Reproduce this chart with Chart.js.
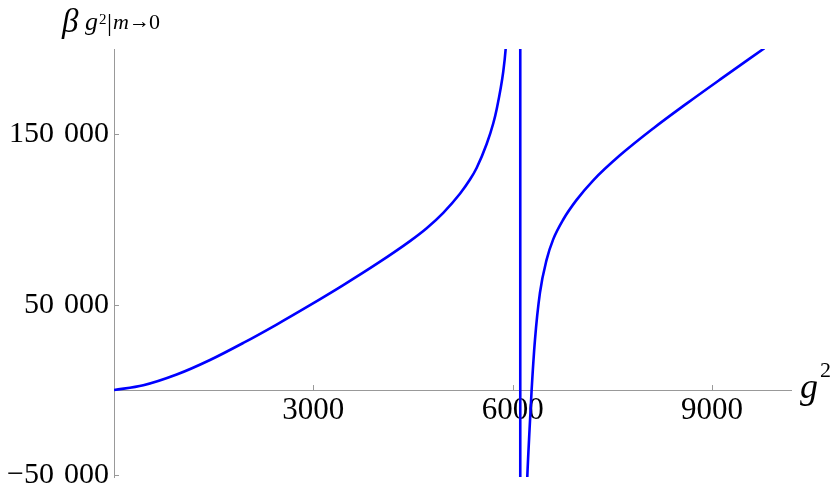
<!DOCTYPE html>
<html><head><meta charset="UTF-8">
<title>beta g2</title>
<script src="https://cdn.jsdelivr.net/npm/chart.js"></script>
<style>html,body{margin:0;padding:0;background:#fff}</style>
</head><body>
<canvas id="c" width="830" height="492"></canvas>
<script>
// valores: g^2 no eixo x, beta no eixo y
const leftX  = [0, 441, 943, 1445, 1946, 2448, 2950, 3451, 3953, 4455, 4706, 4956, 5207, 5358, 5458, 5609, 5709, 5759, 5859, 5895, 5920];
const leftY  = [0, 2800, 9080, 17610, 27630, 38420, 49770, 61540, 73940, 87340, 94900, 103950, 115120, 123430, 130230, 144270, 156470, 164570, 186770, 199910, 214900];
const poleX  = [6115, 6115];
const poleY  = [-60000, 210000];
const rightX = [6205, 6221, 6255, 6286, 6336, 6411, 6512, 6612, 6762, 6963, 7214, 7615, 8116, 8618, 9120, 9790];
const rightY = [-70000, -50800, -23000, 0, 29300, 57000, 76500, 88500, 100000, 111500, 123000, 137640, 153420, 167980, 182030, 200460];
const xTicks = [3000, 6000, 9000];
const yTicks = [-50000, 50000, 150000];

const pts = (xs, ys) => xs.map((v, i) => ({x: v, y: ys[i]}));
const serie = d => ({data: d, borderColor: '#0000ff', borderWidth: 2.6, pointRadius: 0,
  fill: false, cubicInterpolationMode: 'monotone'});

const fmt = v => {
  const s = Math.abs(v).toString().replace(/\B(?=(\d{3})+(?!\d))/g, '\u2004');
  return (v < 0 ? '\u2212' : '') + s;
};

const extras = {
  id: 'extras',
  beforeDatasetsDraw(chart) {
    const {ctx, scales: {x, y}} = chart;
    const x0 = x.getPixelForValue(0), y0 = y.getPixelForValue(0);
    ctx.save();
    ctx.strokeStyle = '#999'; ctx.lineWidth = 1;
    ctx.beginPath();
    x.ticks.forEach(t => { const p = Math.round(x.getPixelForValue(t.value)) + 0.5; ctx.moveTo(p, y0); ctx.lineTo(p, y0 - 5); });
    y.ticks.forEach(t => { const p = Math.round(y.getPixelForValue(t.value)) + 0.5; ctx.moveTo(x0, p); ctx.lineTo(x0 + 5, p); });
    ctx.stroke();
    ctx.restore();
  },
  afterDraw(chart) {
    const {ctx, chartArea: a, scales: {y}} = chart;
    const y0 = y.getPixelForValue(0);
    const put = (txt, font, px, py) => { ctx.font = font; ctx.fillText(txt, px, py); };
    ctx.save();
    ctx.fillStyle = '#000';
    ctx.textBaseline = 'alphabetic';
    // rótulo do eixo y
    const L = a.left;
    put('\u03b2', 'italic 33px "Liberation Serif"', L - 52, 32);
    put('g', 'italic 26px "Liberation Serif"', L - 29, 30);
    put('2', '15px "Liberation Serif"', L - 15, 24);
    put('|', '25px "Liberation Serif"', L - 7, 31);
    put('m', 'italic 22px "Liberation Serif"', L - 1, 29);
    put('\u2192', '21px "Liberation Serif"', L + 15, 28);
    put('0', '22px "Liberation Serif"', L + 35, 29);
    // rótulo do eixo x
    put('g', 'italic 36px "Liberation Serif"', a.right + 9, y0 + 8);
    put('2', '22px "Liberation Serif"', a.right + 29, y0 - 13);
    ctx.restore();
  }
};

new Chart(document.getElementById('c'), {
  type: 'line',
  data: { datasets: [serie(pts(leftX, leftY)), serie(pts(poleX, poleY)), serie(pts(rightX, rightY))] },
  options: {
    responsive: false, animation: false,
    layout: { padding: { left: 0, top: 49, right: 39, bottom: 15 } },
    plugins: { legend: { display: false }, tooltip: { enabled: false } },
    scales: {
      x: {
        type: 'linear', position: { y: 0 }, min: 0, max: 10190,
        afterBuildTicks: s => { s.ticks = xTicks.map(v => ({value: v})); },
        grid: { display: false, drawTicks: false },
        border: { display: true, color: '#999', width: 1 },
        ticks: { color: '#000', padding: 2, maxRotation: 0, autoSkip: false,
          font: { family: 'Liberation Serif', size: 31 }, callback: v => String(v) }
      },
      y: {
        type: 'linear', position: 'left', min: -51000, max: 200000,
        afterFit: s => { s.width = 114; s.paddingTop = 0; s.paddingBottom = 0; },
        afterBuildTicks: s => { s.ticks = yTicks.map(v => ({value: v})); },
        grid: { display: false, drawTicks: false },
        border: { display: true, color: '#999', width: 1 },
        ticks: { color: '#000', padding: 5, autoSkip: false,
          font: { family: 'Liberation Serif', size: 30 }, callback: v => fmt(v) }
      }
    }
  },
  plugins: [extras]
});
</script></body></html>
